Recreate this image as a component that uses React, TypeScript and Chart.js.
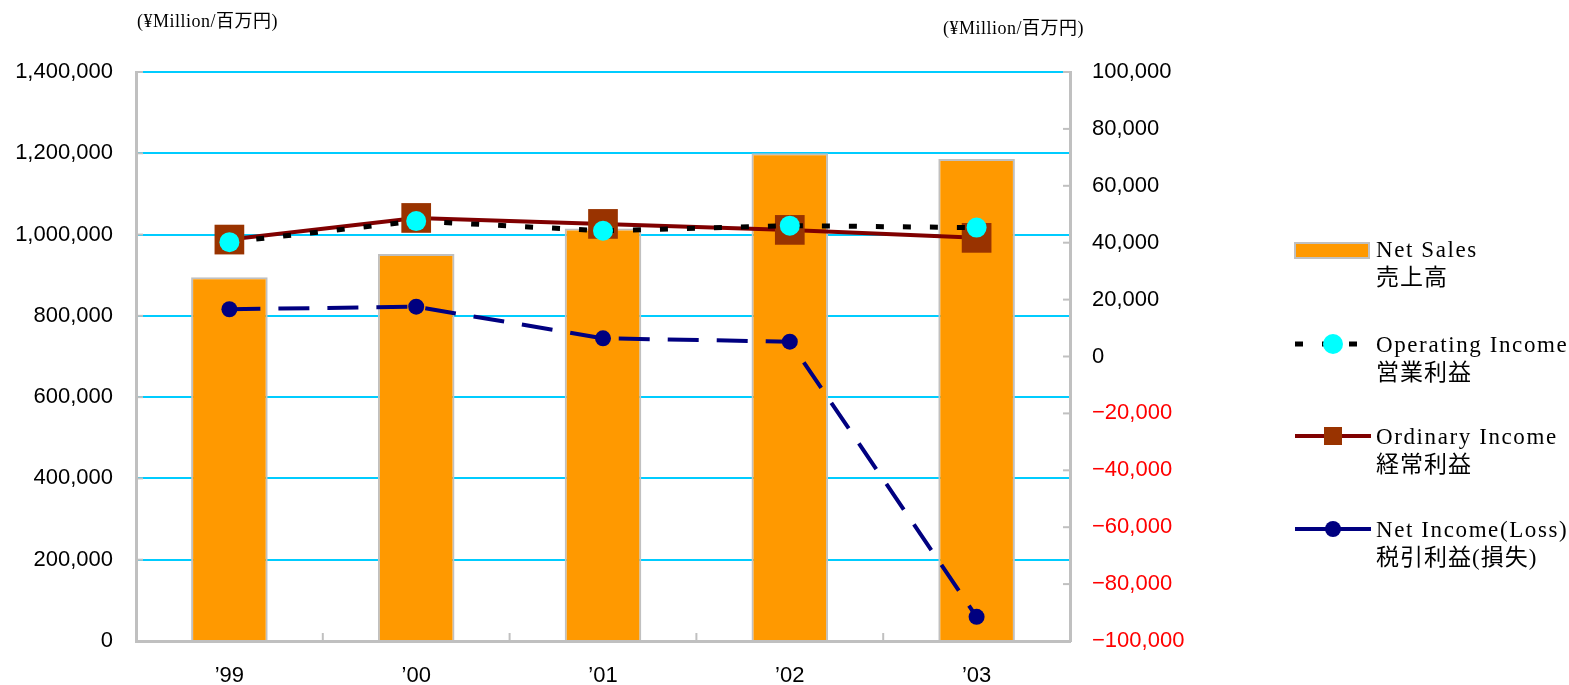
import { useEffect, useRef } from "react";
import { Chart, registerables } from "chart.js";

Chart.register(...registerables);

const W = 1569;
const H = 685;

const categories = ["’99", "’00", "’01", "’02", "’03"];
const netSales = [895000, 952000, 1015000, 1200000, 1186000];
const operatingIncome = [40200, 47600, 44200, 46000, 45300];
const ordinaryIncome = [41100, 48700, 46600, 44500, 41700];
const netIncome = [16600, 17500, 6400, 5200, -91500];

const leftAxis = { min: 0, max: 1400000, step: 200000 };
const rightAxis = { min: -100000, max: 100000, step: 20000 };

const unitLabel = "(¥Million/百万円)";
const legendNetSales = ["Net Sales", "売上高"];
const legendOperating = ["Operating Income", "営業利益"];
const legendOrdinary = ["Ordinary Income", "経常利益"];
const legendNetIncome = ["Net Income(Loss)", "税引利益(損失)"];

const ORANGE = "#FF9900";
const GRAY = "#C0C0C0";
const CYAN_GRID = "#00CCFF";
const CYAN_PT = "#00FFFF";
const DARK_RED = "#800000";
const BROWN = "#993300";
const NAVY = "#000080";

const SANS = '"Liberation Sans", Arial, sans-serif';
const SERIF = '"Liberation Serif", "Noto Sans CJK JP", serif';

const fmt = (v: number) => Math.abs(v).toLocaleString("en-US");

const innerTicks = {
  id: "innerTicks",
  afterDraw(chart: any) {
    const { ctx, chartArea, scales } = chart;
    ctx.save();
    ctx.strokeStyle = GRAY;
    ctx.lineWidth = 2;
    const y = scales.y;
    y.ticks.forEach((t: any) => {
      const py = y.getPixelForValue(t.value);
      ctx.beginPath();
      ctx.moveTo(chartArea.left, py);
      ctx.lineTo(chartArea.left + 7, py);
      ctx.stroke();
    });
    const y1 = scales.y1;
    y1.ticks.forEach((t: any) => {
      const py = y1.getPixelForValue(t.value);
      ctx.beginPath();
      ctx.moveTo(chartArea.right - 7, py);
      ctx.lineTo(chartArea.right, py);
      ctx.stroke();
    });
    const x = scales.x;
    for (let i = 1; i < categories.length; i++) {
      const px = (x.getPixelForValue(i - 1) + x.getPixelForValue(i)) / 2;
      ctx.beginPath();
      ctx.moveTo(px, chartArea.bottom);
      ctx.lineTo(px, chartArea.bottom - 8);
      ctx.stroke();
    }
    ctx.restore();
  },
};

const decorations = {
  id: "decorations",
  afterDraw(chart: any) {
    const { ctx } = chart;
    ctx.save();
    // unit labels
    ctx.fillStyle = "#000";
    ctx.font = `18px ${SERIF}`;
    ctx.textBaseline = "alphabetic";
    ctx.textAlign = "left";
    (ctx as any).letterSpacing = "0.5px";
    ctx.fillText(unitLabel, 137, 27);
    ctx.fillText(unitLabel, 943, 34);

    // legend
    const sx = 1295;
    const ex = 1371;
    const cx = 1333;
    const tx = 1376;
    const drawText = (lines: string[], base: number) => {
      ctx.fillStyle = "#000";
      ctx.font = `23px ${SERIF}`;
      (ctx as any).letterSpacing = "1.6px";
      ctx.fillText(lines[0], tx, base);
      ctx.font = `23px ${SERIF}`;
      (ctx as any).letterSpacing = "1px";
      ctx.fillText(lines[1], tx, base + 28);
    };

    // Net Sales
    ctx.fillStyle = ORANGE;
    ctx.fillRect(sx, 243, ex - sx - 2, 15);
    ctx.strokeStyle = GRAY;
    ctx.lineWidth = 2;
    ctx.strokeRect(sx, 243, ex - sx - 2, 15);
    drawText(legendNetSales, 257);

    // Operating
    ctx.strokeStyle = "#000";
    ctx.lineWidth = 5;
    ctx.setLineDash([8, 19]);
    ctx.beginPath();
    ctx.moveTo(sx, 344);
    ctx.lineTo(ex, 344);
    ctx.stroke();
    ctx.setLineDash([]);
    ctx.fillStyle = CYAN_PT;
    ctx.beginPath();
    ctx.arc(cx, 344, 10, 0, Math.PI * 2);
    ctx.fill();
    drawText(legendOperating, 352);

    // Ordinary
    ctx.strokeStyle = DARK_RED;
    ctx.lineWidth = 4;
    ctx.beginPath();
    ctx.moveTo(sx, 436);
    ctx.lineTo(ex, 436);
    ctx.stroke();
    ctx.fillStyle = BROWN;
    ctx.fillRect(cx - 9, 427, 18, 18);
    drawText(legendOrdinary, 444);

    // Net income
    ctx.strokeStyle = NAVY;
    ctx.lineWidth = 4;
    ctx.beginPath();
    ctx.moveTo(sx, 529);
    ctx.lineTo(ex, 529);
    ctx.stroke();
    ctx.fillStyle = NAVY;
    ctx.beginPath();
    ctx.arc(cx, 529, 8, 0, Math.PI * 2);
    ctx.fill();
    drawText(legendNetIncome, 537);

    ctx.restore();
  },
};

export default function App() {
  const ref = useRef<HTMLCanvasElement | null>(null);

  useEffect(() => {
    if (!ref.current) return;
    const chart = new Chart(ref.current, {
      type: "bar",
      data: {
        labels: categories,
        datasets: [
          {
            type: "line",
            label: "Operating Income",
            data: operatingIncome,
            yAxisID: "y1",
            borderColor: "#000",
            borderWidth: 5,
            borderDash: [8, 19],
            pointStyle: "circle",
            pointRadius: 10,
            pointBorderWidth: 0,
            pointBackgroundColor: CYAN_PT,
            tension: 0,
            order: 1,
          },
          {
            type: "line",
            label: "Ordinary Income",
            data: ordinaryIncome,
            yAxisID: "y1",
            borderColor: DARK_RED,
            borderWidth: 4,
            pointStyle: "rect",
            pointRadius: 21,
            pointBorderWidth: 0,
            pointBackgroundColor: BROWN,
            tension: 0,
            order: 2,
          },
          {
            type: "line",
            label: "Net Income(Loss)",
            data: netIncome,
            yAxisID: "y1",
            borderColor: NAVY,
            borderWidth: 4,
            borderDash: [31, 18],
            pointStyle: "circle",
            pointRadius: 8,
            pointBorderWidth: 0,
            pointBackgroundColor: NAVY,
            tension: 0,
            order: 3,
          },
          {
            type: "bar",
            label: "Net Sales",
            data: netSales,
            yAxisID: "y",
            backgroundColor: ORANGE,
            borderColor: GRAY,
            borderWidth: 2,
            barPercentage: 0.41,
            categoryPercentage: 1,
            order: 4,
          },
        ],
      },
      options: {
        responsive: false,
        animation: false,
        devicePixelRatio: 1,
        layout: { padding: { top: 72, left: 0, right: 0, bottom: 0 } },
        plugins: {
          legend: { display: false },
          tooltip: { enabled: false },
        },
        scales: {
          x: {
            type: "category",
            offset: true,
            grid: { display: false, drawTicks: false },
            border: { display: true, color: GRAY, width: 3 },
            ticks: {
              color: "#000",
              font: { family: SANS, size: 22 },
              padding: 22,
              maxRotation: 0,
            },
            afterFit: (s: any) => {
              s.height = 44;
            },
          },
          y: {
            position: "left",
            min: leftAxis.min,
            max: leftAxis.max,
            grid: {
              color: (c: any) => (c.tick && c.tick.value === 0 ? GRAY : CYAN_GRID),
              lineWidth: 2,
              drawTicks: false,
            },
            border: { display: true, color: GRAY, width: 3 },
            ticks: {
              stepSize: leftAxis.step,
              color: "#000",
              font: { family: SANS, size: 22 },
              padding: 23,
              callback: (v: any) => fmt(Number(v)),
            },
            afterFit: (s: any) => {
              s.width = 136;
            },
          },
          y1: {
            position: "right",
            min: rightAxis.min,
            max: rightAxis.max,
            grid: { display: false, drawTicks: false },
            border: { display: true, color: GRAY, width: 3 },
            ticks: {
              stepSize: rightAxis.step,
              color: (c: any) => (c.tick && c.tick.value < 0 ? "#FF0000" : "#000"),
              font: { family: SANS, size: 22 },
              padding: 22,
              callback: (v: any) => (Number(v) < 0 ? "−" : "") + fmt(Number(v)),
            },
            afterFit: (s: any) => {
              s.width = W - 1070;
            },
          },
        },
      },
      plugins: [innerTicks, decorations],
    });
    return () => chart.destroy();
  }, []);

  return (
    <div style={{ position: "absolute", left: 0, top: 0, width: W, height: H, background: "#fff" }}>
      <canvas ref={ref} width={W} height={H} style={{ display: "block", width: W, height: H }} />
    </div>
  );
}
